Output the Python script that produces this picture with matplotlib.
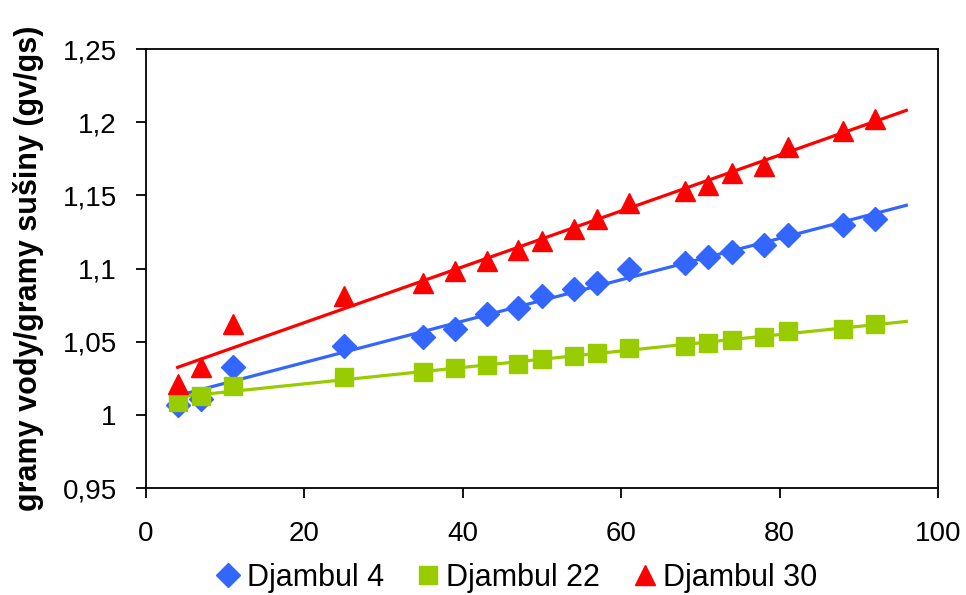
import numpy as np
import matplotlib.pyplot as plt

plt.rcParams['font.family'] = ['Liberation Sans', 'DejaVu Sans']

# Data
x = [4, 7, 11, 25, 35, 39, 43, 47, 50, 54, 57, 61, 68, 71, 74, 78, 81, 88, 92]
djambul4 = [1.007, 1.011, 1.033, 1.047, 1.053, 1.059, 1.069, 1.073, 1.081, 1.086,
            1.090, 1.100, 1.104, 1.108, 1.111, 1.116, 1.123, 1.130, 1.134]
djambul22 = [1.009, 1.013, 1.020, 1.026, 1.029, 1.032, 1.034, 1.035, 1.038, 1.040,
             1.042, 1.046, 1.047, 1.049, 1.051, 1.053, 1.057, 1.059, 1.062]
djambul30 = [1.021, 1.033, 1.062, 1.081, 1.090, 1.098, 1.105, 1.113, 1.119, 1.127,
             1.134, 1.145, 1.153, 1.157, 1.165, 1.170, 1.183, 1.194, 1.202]
names = ['Djambul 4', 'Djambul 22', 'Djambul 30']
colors = ['#3366FF', '#99CC00', '#FF0000']
markers = ['D', 's', '^']
sizes = [12, 13.5, 15]

# trend line range
trend_x = np.array([4, 96])

fig = plt.figure(figsize=(9.66, 5.95), dpi=100)
ax = fig.add_axes([0.1511, 0.1798, 0.8199, 0.7378])

series = [djambul4, djambul22, djambul30]
for yy, name, c, m, s in zip(series, names, colors, markers, sizes):
    k, q = np.polyfit(x, yy, 1)
    ax.plot(trend_x, k * trend_x + q, color=c, lw=2.3, zorder=2)
    ax.plot(x, yy, linestyle='none', marker=m, ms=s, color=c, mec=c,
            label=name, zorder=3)

ax.set_xlim(0, 100)
ax.set_ylim(0.95, 1.25)
ax.set_xticks(range(0, 101, 20))
ax.set_yticks(np.arange(0.95, 1.2501, 0.05))
ax.set_yticklabels(['0,95', '1', '1,05', '1,1', '1,15', '1,2', '1,25'])
ax.tick_params(labelsize=20, direction='out', length=7, width=1.3)
ax.tick_params(axis='y', pad=14)
ax.tick_params(axis='x', pad=17)
for sp in ax.spines.values():
    sp.set_linewidth(1.3)

ax.set_ylabel('gramy vody/gramy sušiny (gv/gs)', fontsize=22,
              fontweight='bold', labelpad=13)

leg = fig.legend(loc='center', bbox_to_anchor=(0.534, 0.029), ncol=3,
                 frameon=False, fontsize=22, handletextpad=0.15,
                 columnspacing=1.0, handlelength=0.9, markerscale=1.0)

fig.savefig('out.png', dpi=100)
